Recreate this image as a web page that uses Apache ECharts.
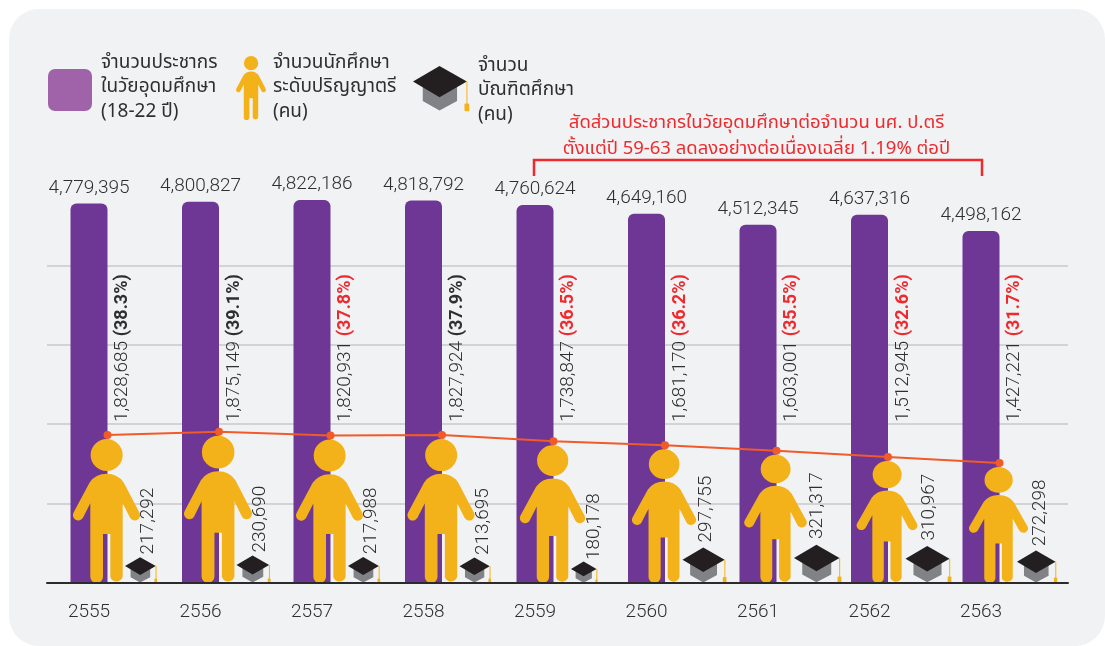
<!DOCTYPE html>
<html>
<head>
<meta charset="utf-8">
<title>จำนวนประชากรในวัยอุดมศึกษา</title>
<script src="https://cdn.jsdelivr.net/npm/echarts@6/dist/echarts.min.js"></script>
<style>
  html, body { margin: 0; padding: 0; background: #fff; }
  #panel { position: absolute; left: 9px; top: 9px; width: 1096px; height: 637px; background: #f1f2f4; border-radius: 30px; }
  #chart { position: absolute; left: 0; top: 0; width: 1105px; height: 646px; }
</style>
</head>
<body>
<div id="panel"></div>
<div id="chart"></div>
<script>
const years = ["2555", "2556", "2557", "2558", "2559", "2560", "2561", "2562", "2563"];
const population = [4779395, 4800827, 4822186, 4818792, 4760624, 4649160, 4512345, 4637316, 4498162];
// height of the purple bar (the last bar is drawn shorter than its label says)
const populationBars = [4779395, 4800827, 4822186, 4818792, 4760624, 4649160, 4512345, 4637316, 4433000];
const students = [1828685, 1875149, 1820931, 1827924, 1738847, 1681170, 1603001, 1512945, 1427221];
const shares = [38.3, 39.1, 37.8, 37.9, 36.5, 36.2, 35.5, 32.6, 31.7];
const shareInRed = [false, false, true, false, true, true, true, true, true];
const graduates = [217292, 230690, 217988, 213695, 180178, 297755, 321317, 310967, 272298];

const legendPopulation = "จำนวนประชากร\nในวัยอุดมศึกษา\n(18-22 ปี)";
const legendStudents = "จำนวนนักศึกษา\nระดับปริญญาตรี\n(คน)";
const legendGraduates = "จำนวน\nบัณฑิตศึกษา\n(คน)";
const noteLines = "สัดส่วนประชากรในวัยอุดมศึกษาต่อจำนวน นศ. ป.ตรี\nตั้งแต่ปี 59-63 ลดลงอย่างต่อเนื่องเฉลี่ย 1.19% ต่อปี";

const FONT = 'Roboto, "Liberation Sans", sans-serif';
const NUM_FONT = "300 19px " + FONT;
const THAI_FONT = '"Noto Sans Thai", "Noto Sans", "DejaVu Sans", sans-serif';
const TEXT = "#2f2f31", PURPLE = "#6e3795", YELLOW = "#f4b21a", RED = "#ee2a2e", ORANGE = "#f15a29";

const personPath = "M52 192L30 236A16 16 0 0 1 2 220L50 130Q68 104 101 104Q134 104 152 130L199 220A16 16 0 0 1 171 236L149 192L149 412A19 19 0 0 1 112 412L112 284L90 284L90 412A19 19 0 0 1 52 412ZM53 48A48 48 0 1 1 149 48A48 48 0 1 1 53 48Z";

// mortarboard, drawn in a 144x116 box from its top left corner
function hatParts(x, y, k) {
  const p = pts => pts.map(q => [x + q[0] * k, y + q[1] * k]);
  return [
    { type: "polygon", shape: { points: p([[25, 50], [113, 50], [113, 90], [68, 114], [25, 90]]) }, style: { fill: "#808285" } },
    { type: "polygon", shape: { points: p([[0, 40], [68, 0], [138, 40], [68, 80]]) }, style: { fill: "#231f20" } },
    { type: "rect", shape: { x: x + 137 * k, y: y + 40 * k, width: Math.max(1, 2 * k), height: 58 * k }, style: { fill: YELLOW } },
    { type: "rect", shape: { x: x + 132 * k, y: y + 96 * k, width: 12 * k, height: 20 * k, r: 1 }, style: { fill: YELLOW } }
  ];
}

function renderPerson(params, api) {
  const top = api.coord([api.value(0), api.value(1)]);
  const bottom = params.coordSys.y + params.coordSys.height;
  const h = bottom - top[1] - 4;
  const w = 0.286 * h + 26;
  return {
    type: "path",
    shape: { pathData: personPath, layout: "cover", x: top[0] - 1 - w / 2, y: bottom - h, width: w, height: h },
    style: { fill: YELLOW }
  };
}

function renderHat(params, api) {
  const top = api.coord([api.value(0), api.value(1)]);
  const bottom = params.coordSys.y + params.coordSys.height;
  const h = bottom - top[1];
  const i = api.value(0);
  return {
    type: "group",
    children: hatParts(top[0] + 36, top[1], h / 116).concat([{
      type: "text",
      x: top[0] + 59.5,
      y: top[1] - (0.25 * h - 3.8),
      rotation: Math.PI / 2,
      style: {
        text: graduates[i].toLocaleString("en-US"),
        font: NUM_FONT, fill: TEXT, align: "left", verticalAlign: "middle"
      }
    }])
  };
}

function renderShareLabel(params, api) {
  const i = api.value(0);
  const x = api.coord([i, 0])[0];
  return {
    type: "text",
    x: x + 15,
    y: params.coordSys.y + params.coordSys.height - 161,
    rotation: Math.PI / 2,
    style: {
      text: students[i].toLocaleString("en-US") + " {" + (shareInRed[i] ? "r" : "k") + "|(" + shares[i].toFixed(1) + "%)}",
      font: NUM_FONT, fill: TEXT, align: "left", verticalAlign: "middle",
      rich: {
        r: { font: "bold 18px " + FONT, fill: RED },
        k: { font: "bold 18px " + FONT, fill: TEXT }
      }
    }
  };
}

// legend icons are not tied to any axis
function renderLegendIcons() {
  return {
    type: "group",
    children: [{
      type: "path",
      shape: { pathData: personPath, layout: "cover", x: 236, y: 56, width: 30, height: 64 },
      style: { fill: YELLOW }
    }].concat(hatParts(413, 66, 0.39))
  };
}

const pairs = arr => arr.map((v, i) => [i, v]);
const chart = echarts.init(document.getElementById("chart"));

chart.setOption({
  animation: false,
  textStyle: { fontFamily: FONT },
  grid: [
    { left: 47, width: 1021, top: 225.7, height: 357.3 },       // gridlines and baseline
    { left: 33.25, width: 1003.5, top: 186, height: 397 },      // bars and hats
    { left: 51.75, width: 1003.5, top: 186, height: 397 }       // line and people, at the bars' right edge
  ],
  xAxis: [
    { gridIndex: 0, type: "value", min: 0, max: 1, axisLabel: { show: false }, axisTick: { show: false }, splitLine: { show: false },
      axisLine: { show: true, lineStyle: { color: "#2b2a2c", width: 2 } }, z: 5 },
    { gridIndex: 1, type: "category", data: years, axisLine: { show: false }, axisTick: { show: false },
      axisLabel: { color: TEXT, fontSize: 19, fontWeight: 300, margin: 20, fontFamily: FONT } },
    { gridIndex: 2, type: "category", data: years, show: false }
  ],
  yAxis: [
    { gridIndex: 0, type: "value", min: 0, max: 4500000, interval: 1000000, axisLabel: { show: false }, axisLine: { show: false }, axisTick: { show: false },
      splitLine: { showMaxLine: false, lineStyle: { color: "#d1d3d4", width: 2 } } },
    { gridIndex: 1, type: "value", min: 0, max: 5000000, show: false },
    { gridIndex: 1, type: "value", min: 0, max: 3336000, show: false },
    { gridIndex: 2, type: "value", min: -294118, max: 5400000, show: false }
  ],
  series: [
    {
      name: "จำนวนประชากร", type: "bar", xAxisIndex: 1, yAxisIndex: 1, barWidth: 37, z: 2,
      data: populationBars,
      itemStyle: { color: PURPLE, borderRadius: [6, 6, 0, 0] },
      label: {
        show: true, position: "top", distance: 6, color: TEXT, fontSize: 19, fontWeight: 300, fontFamily: FONT,
        formatter: p => population[p.dataIndex].toLocaleString("en-US")
      }
    },
    { name: "สัดส่วน", type: "custom", xAxisIndex: 2, yAxisIndex: 3, data: pairs(students), renderItem: renderShareLabel, z: 3 },
    { name: "จำนวนนักศึกษา", type: "custom", xAxisIndex: 2, yAxisIndex: 3, data: pairs(students), renderItem: renderPerson, z: 4 },
    { name: "จำนวนบัณฑิตศึกษา", type: "custom", xAxisIndex: 1, yAxisIndex: 2, data: pairs(graduates), renderItem: renderHat, z: 4 },
    {
      name: "แนวโน้มนักศึกษา", type: "line", xAxisIndex: 2, yAxisIndex: 3, data: students, z: 6,
      symbol: "circle", symbolSize: 8, lineStyle: { color: ORANGE, width: 2 }, itemStyle: { color: ORANGE }
    },
    { name: "ไอคอนคำอธิบาย", type: "custom", coordinateSystem: "none", data: [0], renderItem: renderLegendIcons, silent: true }
  ],
  graphic: [
    { type: "rect", x: 48, y: 69, shape: { width: 44, height: 42, r: 7 }, style: { fill: "#a062a8" } },
    { type: "text", x: 101, y: 51.5, style: { text: legendPopulation, font: "19px " + THAI_FONT, fill: TEXT, lineHeight: 24.5 } },
    { type: "text", x: 273, y: 51.5, style: { text: legendStudents, font: "19px " + THAI_FONT, fill: TEXT, lineHeight: 24.5 } },
    { type: "text", x: 478, y: 54.5, style: { text: legendGraduates, font: "19px " + THAI_FONT, fill: TEXT, lineHeight: 24.5 } },
    { type: "text", x: 756.5, y: 111.5, style: { text: noteLines, font: "18.5px " + THAI_FONT, fill: RED, lineHeight: 26, align: "center" } },
    { type: "polyline", shape: { points: [[534, 176], [534, 160], [982, 160], [982, 176]] }, style: { stroke: RED, lineWidth: 2.5, fill: null } }
  ]
});
</script>
</body>
</html>
